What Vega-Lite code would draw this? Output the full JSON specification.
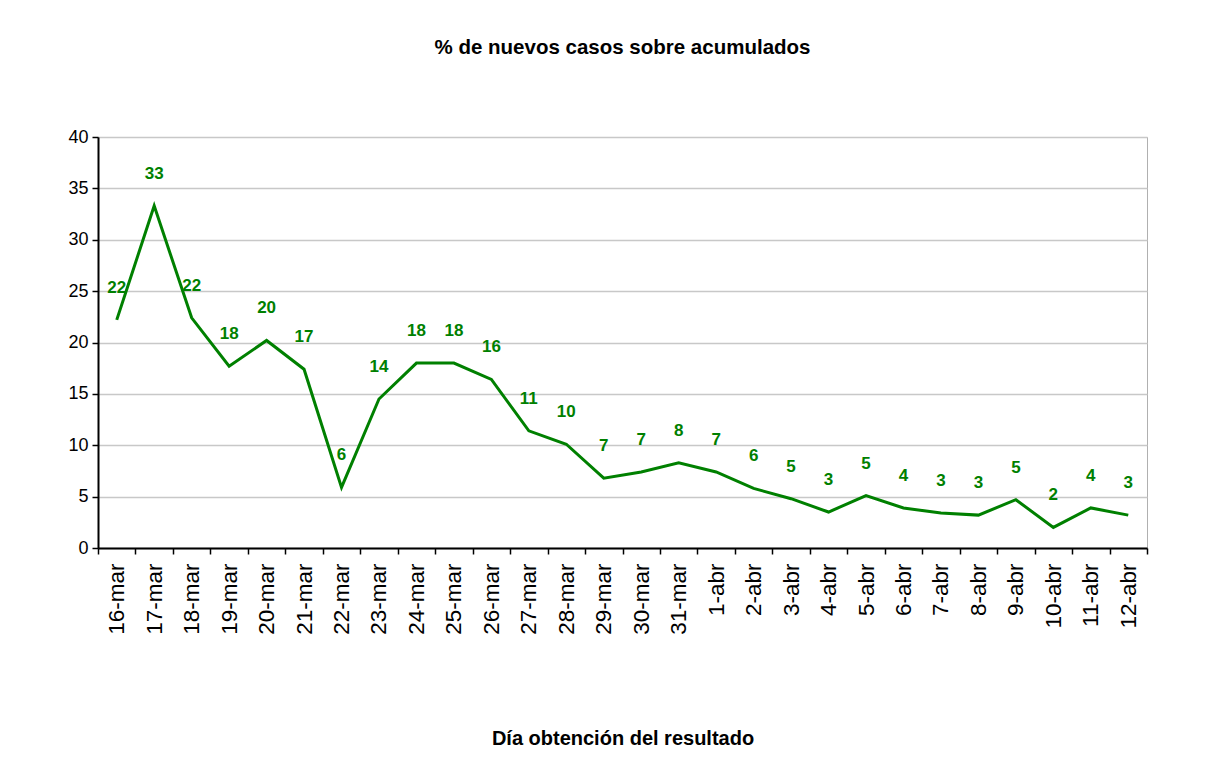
{
  "$schema": "https://vega.github.io/schema/vega-lite/v6.json",
  "autosize": {"type": "none"},
  "padding": {"left": 98, "top": 137, "right": 63, "bottom": 214},
  "width": 1049,
  "height": 411,
  "background": "white",
  "title": {
    "text": "% de nuevos casos sobre acumulados",
    "font": "Liberation Sans",
    "fontSize": 20.5,
    "fontWeight": "bold",
    "color": "black",
    "anchor": "middle",
    "offset": 70
  },
  "config": {
    "view": {"stroke": "#b0b0b0", "strokeWidth": 1},
    "font": "Liberation Sans"
  },
  "data": {
    "values": [
      {"dia": "16-mar", "pct": 22.2, "label": "22"},
      {"dia": "17-mar", "pct": 33.3, "label": "33"},
      {"dia": "18-mar", "pct": 22.4, "label": "22"},
      {"dia": "19-mar", "pct": 17.7, "label": "18"},
      {"dia": "20-mar", "pct": 20.2, "label": "20"},
      {"dia": "21-mar", "pct": 17.4, "label": "17"},
      {"dia": "22-mar", "pct": 5.9, "label": "6"},
      {"dia": "23-mar", "pct": 14.5, "label": "14"},
      {"dia": "24-mar", "pct": 18.0, "label": "18"},
      {"dia": "25-mar", "pct": 18.0, "label": "18"},
      {"dia": "26-mar", "pct": 16.4, "label": "16"},
      {"dia": "27-mar", "pct": 11.4, "label": "11"},
      {"dia": "28-mar", "pct": 10.1, "label": "10"},
      {"dia": "29-mar", "pct": 6.8, "label": "7"},
      {"dia": "30-mar", "pct": 7.4, "label": "7"},
      {"dia": "31-mar", "pct": 8.3, "label": "8"},
      {"dia": "1-abr", "pct": 7.4, "label": "7"},
      {"dia": "2-abr", "pct": 5.8, "label": "6"},
      {"dia": "3-abr", "pct": 4.8, "label": "5"},
      {"dia": "4-abr", "pct": 3.5, "label": "3"},
      {"dia": "5-abr", "pct": 5.1, "label": "5"},
      {"dia": "6-abr", "pct": 3.9, "label": "4"},
      {"dia": "7-abr", "pct": 3.4, "label": "3"},
      {"dia": "8-abr", "pct": 3.2, "label": "3"},
      {"dia": "9-abr", "pct": 4.7, "label": "5"},
      {"dia": "10-abr", "pct": 2.0, "label": "2"},
      {"dia": "11-abr", "pct": 3.9, "label": "4"},
      {"dia": "12-abr", "pct": 3.2, "label": "3"}
    ]
  },
  "encoding": {
    "x": {
      "field": "dia",
      "type": "ordinal",
      "sort": null,
      "scale": {"type": "band", "paddingInner": 0, "paddingOuter": 0},
      "axis": {
        "title": "Día obtención del resultado",
        "titleFont": "Liberation Sans",
        "titleFontSize": 20,
        "titleFontWeight": "bold",
        "titleColor": "black",
        "titlePadding": 94,
        "labelAngle": -90,
        "labelFont": "Liberation Sans",
        "labelFontSize": 22.5,
        "labelColor": "black",
        "labelPadding": 9,
        "labelBaseline": "middle",
        "labelAlign": "right",
        "tickBand": "extent",
        "tickSize": 6,
        "tickColor": "black",
        "tickWidth": 1.5,
        "domainColor": "black",
        "domainWidth": 2,
        "grid": false
      }
    },
    "y": {
      "field": "pct",
      "type": "quantitative",
      "scale": {"domain": [0, 40], "nice": false},
      "axis": {
        "title": null,
        "values": [0, 5, 10, 15, 20, 25, 30, 35, 40],
        "labelFont": "Liberation Sans",
        "labelFontSize": 18,
        "labelColor": "black",
        "labelPadding": 4,
        "tickSize": 6,
        "tickColor": "black",
        "tickWidth": 1.5,
        "domainColor": "black",
        "domainWidth": 2,
        "grid": true,
        "gridColor": "#c8c8c8",
        "gridWidth": 1.5
      }
    }
  },
  "layer": [
    {
      "mark": {"type": "line", "color": "#008000", "strokeWidth": 3, "strokeJoin": "miter"}
    },
    {
      "mark": {
        "type": "text",
        "color": "#008000",
        "font": "Liberation Sans",
        "fontSize": 17,
        "fontWeight": "bold",
        "baseline": "middle",
        "dy": -32
      },
      "encoding": {"text": {"field": "label"}}
    }
  ]
}
